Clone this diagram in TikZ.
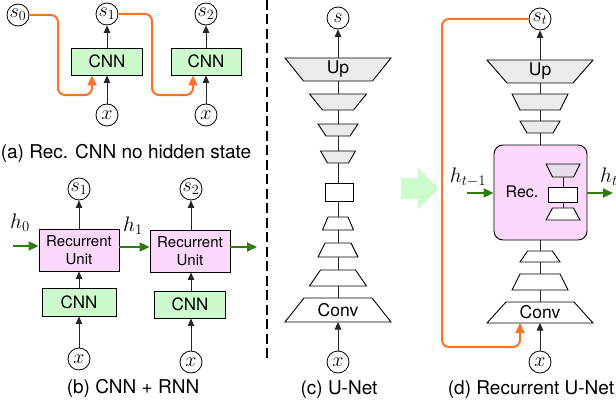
\RequirePackage{fix-cm}
\documentclass[tikz,border=0pt]{standalone}
\usepackage{fontspec}
\setmainfont{TeX Gyre Heros}
\usetikzlibrary{arrows.meta,calc}
\definecolor{cnngreen}{RGB}{205,250,205}
\definecolor{recpink}{RGB}{252,216,252}
\definecolor{trapgray}{RGB}{235,235,235}
\definecolor{lav}{RGB}{233,221,235}
\definecolor{orangec}{RGB}{255,112,40}
\definecolor{greenc}{RGB}{46,125,15}
\definecolor{bigarrow}{RGB}{204,252,204}
\newcommand\trapz[7]{%
  \filldraw[trapline,fill=#7] (#2-#5/2,#3) -- (#2+#5/2,#3) -- (#2+#6/2,#4) -- (#2-#6/2,#4) -- cycle;
  \coordinate (#1-n) at (#2,#3);
  \coordinate (#1-s) at (#2,#4);
  \coordinate (#1-c) at (#2,{(#3+#4)/2});
}
\tikzset{
  trapline/.style={draw=black,line width=0.9pt,line join=miter},
  circ/.style={circle,draw,line width=0.8pt,inner sep=0pt,minimum size=22pt,fill=white,font=\fontsize{20}{20}\selectfont},
  cnnbox/.style={draw,line width=0.9pt,fill=cnngreen,minimum width=71pt,minimum height=27pt,inner sep=0pt,font=\fontsize{17}{17}\selectfont},
  recbox/.style={draw,line width=0.9pt,fill=recpink,minimum width=80pt,minimum height=42pt,inner sep=0pt,align=center,font=\fontsize{15}{17.5}\selectfont},
  blk/.style={draw=black!85,line width=0.9pt,-{Triangle[length=7.5pt,width=6.5pt]}},
  conn/.style={draw=black!85,line width=0.9pt},
  orng/.style={draw=orangec,line width=2pt,rounded corners=7pt,-{Triangle[length=10pt,width=9pt]}},
  grn/.style={draw=greenc,line width=2pt,-{Triangle[length=10pt,width=9pt]}},
  lbl/.style={inner sep=0pt,font=\fontsize{21}{21}\selectfont},
  captxt/.style={inner sep=0pt,font=\fontsize{19}{22}\selectfont},
  txt/.style={inner sep=0pt,font=\fontsize{17.5}{17.5}\selectfont}
}
\begin{document}
\begin{tikzpicture}[x=1pt,y=-1pt]
\useasboundingbox (0,0) rectangle (616,404);

% ---------- (a) ----------
\node[circ] (s0) at (18,15) {$s_0$};
\node[circ] (a-s1) at (107,14) {$s_1$};
\node[circ] (a-s2) at (206,14) {$s_2$};
\node[cnnbox] (a-c1) at (107,61.5) {CNN};
\node[cnnbox,minimum width=70pt] (a-c2) at (206,61.5) {CNN};
\node[circ] (a-x1) at (107,115) {$x$};
\node[circ] (a-x2) at (206,115) {$x$};
\draw[blk] (a-x1) -- (a-c1);
\draw[blk] (a-c1) -- (a-s1);
\draw[blk] (a-x2) -- (a-c2);
\draw[blk] (a-c2) -- (a-s2);
\draw[orng] (s0.east) -| (58,95) -| ([xshift=-15pt]a-c1.south);
\draw[orng] (a-s1.east) -| (152,95) -| ([xshift=-13pt]a-c2.south);
\node[captxt] (capa) at (126,153) {(a) Rec. CNN no hidden state};

% ---------- (b) ----------
\node[circ] (b-s1) at (79,189) {$s_1$};
\node[circ] (b-s2) at (191,189) {$s_2$};
\node[recbox] (b-r1) at (79,250) {Recurrent\\Unit};
\node[recbox] (b-r2) at (190,251) {Recurrent\\Unit};
\node[cnnbox,minimum width=74pt,minimum height=28pt] (b-c1) at (79,302) {CNN};
\node[cnnbox,minimum width=71pt] (b-c2) at (190,304.5) {CNN};
\node[circ] (b-x1) at (79,359) {$x$};
\node[circ] (b-x2) at (191,362) {$x$};
\draw[blk] (b-x1) -- (b-c1);
\draw[blk] (b-c1) -- (b-r1);
\draw[blk] (b-r1) -- (b-s1);
\draw[blk] (b-x2) -- (b-x2 |- b-c2.south);
\draw[blk] (b-x2 |- b-c2.north) -- (b-x2 |- b-r2.south);
\draw[blk] (b-x2 |- b-r2.north) -- (b-s2);
\coordinate (h0in) at (13,246);
\draw[grn] (h0in) -- (h0in -| b-r1.west);
\draw[grn] ([yshift=3pt]b-r1.east) -- ([yshift=3pt]b-r1.east -| b-r2.west);
\coordinate (bout) at (257,247);
\draw[grn] (bout -| b-r2.east) -- (bout);
\node[lbl] (h0) at (20,223) {$h_0$};
\node[lbl] (h1) at (133,226) {$h_1$};
\node[captxt] (capb) at (133,388) {(b) CNN + RNN};

% ---------- divider ----------
\draw[line width=2pt,dash pattern=on 10pt off 4.5pt] (267,0) -- (267,362);

% ---------- (c) ----------
\trapz{c1}{338}{58}{81}{106}{69}{trapgray}
\node[txt] at (c1-c) {Up};
\trapz{c2}{338}{94}{110}{57}{31}{trapgray}
\trapz{c3}{338}{124}{136}{40}{24}{trapgray}
\trapz{c4}{338}{151}{163}{35}{21}{trapgray}
\node[draw,line width=0.9pt,fill=white,minimum width=28pt,minimum height=18pt,inner sep=0pt] (c5) at (339,192) {};
\trapz{c6}{338}{217}{230}{20}{31}{white}
\trapz{c7}{338}{243}{257}{26}{40}{white}
\trapz{c8}{338}{270}{286}{35}{57}{white}
\trapz{c9}{338}{298}{322}{68}{106}{white}
\node[txt] at (c9-c) {Conv};
\draw[conn] (c1-s) -- (c2-n);
\draw[conn] (c2-s) -- (c3-n);
\draw[conn] (c3-s) -- (c4-n);
\draw[conn] (c4-s) -- (c4-s |- c5.north);
\draw[conn] (c4-s |- c5.south) -- (c6-n);
\draw[conn] (c6-s) -- (c7-n);
\draw[conn] (c7-s) -- (c8-n);
\draw[conn] (c8-s) -- (c9-n);
\node[circ] (c-s) at (338,18) {$s$};
\node[circ] (c-x) at (338,362) {$x$};
\draw[blk] (c1-n) -- (c-s);
\draw[blk] (c-x) -- (c9-s);
\node[captxt] (capc) at (339,390) {(c) U-Net};

% ---------- big arrow ----------
\fill[bigarrow] (401,178) -- (418,178) -- (418,168) -- (439,188.5) -- (418,209) -- (418,199) -- (401,199) -- cycle;

% ---------- (d) ----------
\trapz{d1}{540}{60}{83}{106}{66}{trapgray}
\node[txt] at (d1-c) {Up};
\trapz{d2}{540}{94}{110}{56}{40}{trapgray}
\trapz{d3}{540}{121}{133}{40}{26}{trapgray}
\node[draw,line width=0.9pt,fill=recpink,rounded corners=9pt,minimum width=93pt,minimum height=95pt,inner sep=0pt] (d-rec) at (540.5,192.5) {};
\trapz{m1}{563}{164}{177}{34}{21}{lav}
\node[draw,line width=0.9pt,fill=white,minimum width=29pt,minimum height=15pt,inner sep=0pt] (m2) at (563,194.5) {};
\trapz{m3}{563}{208}{220}{21}{34}{white}
\draw[conn] (m1-s) -- (m2.north);
\draw[conn] (m2.south) -- (m3-n);
\node[txt,font=\fontsize{16}{16}\selectfont] at (522,192) {Rec.};
\trapz{d4}{540}{251}{262}{25}{40}{white}
\trapz{d5}{540}{274}{290}{40}{56}{white}
\trapz{d6}{540}{302}{323}{68}{106}{white}
\node[txt] at (d6-c) {Conv};
\draw[conn] (d1-s) -- (d2-n);
\draw[conn] (d2-s) -- (d3-n);
\draw[conn] (d3-s) -- (d3-s |- d-rec.north);
\draw[conn] (d4-n |- d-rec.south) -- (d4-n);
\draw[conn] (d4-s) -- (d5-n);
\draw[conn] (d5-s) -- (d6-n);
\node[circ] (d-s) at (540,19) {$s_t$};
\node[circ] (d-x) at (540,362) {$x$};
\draw[blk] (d1-n) -- (d-s);
\draw[blk] (d-x) -- (d6-s);
\coordinate (htin) at (467,193);
\draw[grn] (htin) -- (htin -| d-rec.west);
\coordinate (htout) at (613,193);
\draw[grn] (htout -| d-rec.east) -- (htout);
\node[lbl] (hm1) at (468,177) {$h_{t-1}$};
\node[lbl] (ht) at (609,177) {$h_t$};
\draw[orng] (d-s.west) -| (442,347) -| ([xshift=-20pt]d6-s);
\node[captxt] (capd) at (531,390) {(d) Recurrent U-Net};
\end{tikzpicture}
\end{document}
